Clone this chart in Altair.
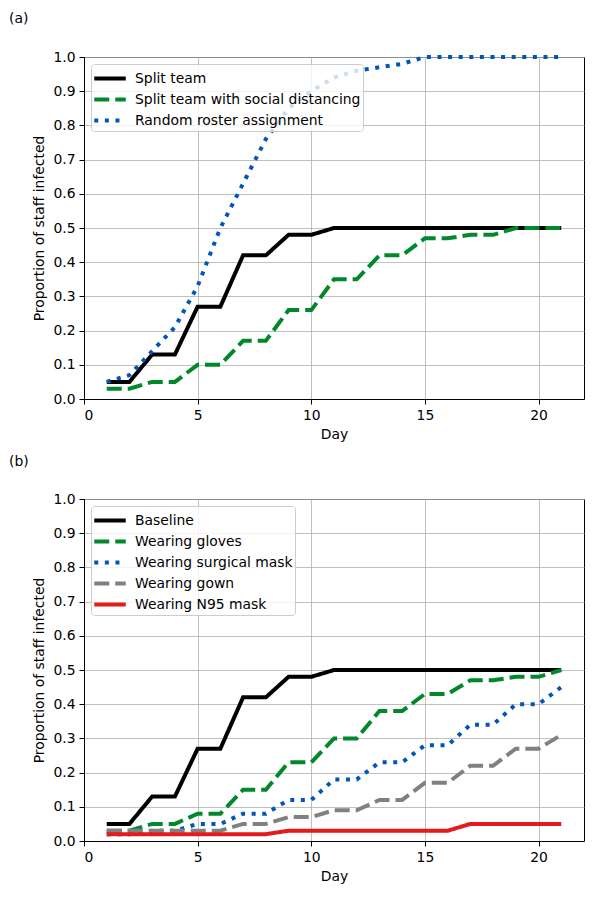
import altair as alt
import pandas as pd

days = list(range(1, 22))

# Panel (a)
split_team = [0.05, 0.05, 0.13, 0.13, 0.27, 0.27, 0.42, 0.42, 0.48, 0.48, 0.50,
              0.50, 0.50, 0.50, 0.50, 0.50, 0.50, 0.50, 0.50, 0.50, 0.50]
split_team_sd = [0.03, 0.03, 0.05, 0.05, 0.10, 0.10, 0.17, 0.17, 0.26, 0.26, 0.35,
                 0.35, 0.42, 0.42, 0.47, 0.47, 0.48, 0.48, 0.50, 0.50, 0.50]
random_roster = [0.05, 0.07, 0.14, 0.21, 0.33, 0.50, 0.63, 0.76, 0.85, 0.90, 0.94,
                 0.96, 0.97, 0.98, 1.00, 1.00, 1.00, 1.00, 1.00, 1.00, 1.00]

# Panel (b)
baseline = split_team
gloves = [0.03, 0.03, 0.05, 0.05, 0.08, 0.08, 0.15, 0.15, 0.23, 0.23, 0.30,
          0.30, 0.38, 0.38, 0.43, 0.43, 0.47, 0.47, 0.48, 0.48, 0.50]
surgical = [0.02, 0.02, 0.03, 0.03, 0.05, 0.05, 0.08, 0.08, 0.12, 0.12, 0.18,
            0.18, 0.23, 0.23, 0.28, 0.28, 0.34, 0.34, 0.40, 0.40, 0.45]
gown = [0.03, 0.03, 0.03, 0.03, 0.03, 0.03, 0.05, 0.05, 0.07, 0.07, 0.09,
        0.09, 0.12, 0.12, 0.17, 0.17, 0.22, 0.22, 0.27, 0.27, 0.31]
n95 = [0.02, 0.02, 0.02, 0.02, 0.02, 0.02, 0.02, 0.02, 0.03, 0.03, 0.03,
       0.03, 0.03, 0.03, 0.03, 0.03, 0.05, 0.05, 0.05, 0.05, 0.05]

names_a = ["Split team", "Split team with social distancing", "Random roster assignment"]
series_a = [split_team, split_team_sd, random_roster]
colors_a = ["#000000", "#00882b", "#0055bb"]
dashes_a = [[1, 0], [15, 6], [4, 6.6]]

names_b = ["Baseline", "Wearing gloves", "Wearing surgical mask", "Wearing gown", "Wearing N95 mask"]
series_b = [baseline, gloves, surgical, gown, n95]
colors_b = ["#000000", "#00882b", "#0055bb", "#808080", "#e41a1c"]
dashes_b = [[1, 0], [15, 6], [4, 6.6], [15, 6], [1, 0]]

FONT = "DejaVu Sans"
FS = 13.9


def long_df(names, series):
    rows = []
    for i, (n, s) in enumerate(zip(names, series)):
        for d, v in zip(days, s):
            rows.append({"series": n, "day": d, "value": v, "order": i})
    return pd.DataFrame(rows)


def panel(names, series, colors, dashes, label):
    df = long_df(names, series)
    legend = alt.Legend(
        title=None, orient="none", legendX=7, legendY=7,
        symbolType="M -1.5 0 L 1.5 0", symbolSize=441, symbolStrokeWidth=4,
        symbolOffset=4.5,
        labelFontSize=FS, labelFont=FONT, labelColor="black",
        fillColor="rgba(255,255,255,0.8)", strokeColor="#cccccc",
        cornerRadius=3, padding=2, rowPadding=0, labelOffset=12.5,
        labelLimit=400,
    )
    return alt.Chart(df, title=alt.TitleParams(
        label, anchor="start", frame="group", dx=-75, offset=23,
        fontSize=FS, font=FONT, fontWeight="normal", color="black",
    )).mark_line(strokeWidth=4, strokeCap="butt", strokeJoin="miter").encode(
        x=alt.X("day:Q", scale=alt.Scale(domain=[0, 22], nice=False),
                axis=alt.Axis(title="Day", values=[0, 5, 10, 15, 20], format="d")),
        y=alt.Y("value:Q", scale=alt.Scale(domain=[0, 1], nice=False),
                axis=alt.Axis(title="Proportion of staff infected",
                              values=[round(i * 0.1, 1) for i in range(11)], format=".1f")),
        color=alt.Color("series:N", scale=alt.Scale(domain=names, range=colors), legend=legend),
        strokeDash=alt.StrokeDash("series:N", scale=alt.Scale(domain=names, range=dashes), legend=legend),
        order=alt.Order("order:Q"),
    ).properties(width=500, height=342)


top = panel(names_a, series_a, colors_a, dashes_a, "(a)")
bottom = panel(names_b, series_b, colors_b, dashes_b, "(b)")

chart = alt.vconcat(top, bottom, spacing=11).resolve_scale(
    color="independent", strokeDash="independent"
).properties(
    padding={"left": 0, "top": 3, "right": 5, "bottom": 5}
).configure_axis(
    labelFont=FONT, titleFont=FONT, labelFontSize=FS, titleFontSize=FS,
    labelColor="black", titleColor="black", titleFontWeight="normal",
    grid=True, gridColor="#b0b0b0", gridWidth=0.8,
    domainColor="black", domainWidth=1, tickColor="black", tickSize=5,
    labelPadding=4, tickWidth=1,
).configure_axisY(titlePadding=6).configure_axisX(titlePadding=6).configure_view(
    stroke="black", strokeWidth=1
)

chart.save("out.html", embed_options={"renderer": "svg", "actions": False})
